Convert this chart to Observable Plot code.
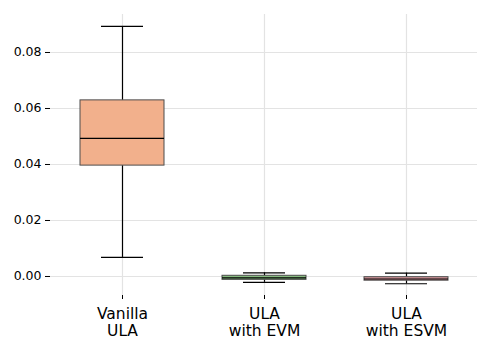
<!DOCTYPE html>
<html>
<head>
<meta charset="utf-8">
<script src="https://cdn.jsdelivr.net/npm/d3@7"></script>
<script src="https://cdn.jsdelivr.net/npm/@observablehq/plot@0.6"></script>
<style>
  html, body { margin: 0; padding: 0; background: #fff; }
  #chart svg { display: block; }
</style>
</head>
<body>
<div id="chart"></div>
<script>
const categories = ["Vanilla\nULA", "ULA\nwith EVM", "ULA\nwith ESVM"];
const whiskerLow = [0.0068, -0.0021, -0.0026];
const q1 = [0.0396, -0.0012, -0.0015];
const median = [0.0493, -0.00046, -0.0009];
const q3 = [0.0629, 0.00025, -0.00025];
const whiskerHigh = [0.0893, 0.0013, 0.0012];
const fills = ["#f2b08c", "#86bb7f", "#d4959b"];
const yTicks = [0, 0.02, 0.04, 0.06, 0.08];

const rows = categories.map((c, i) => ({
  cat: c, lo: whiskerLow[i], q1: q1[i], med: median[i], q3: q3[i], hi: whiskerHigh[i], fill: fills[i]
}));

const chart = Plot.plot({
  width: 490,
  height: 348,
  marginLeft: 50,
  marginRight: 13,
  marginTop: 14,
  marginBottom: 53,
  style: { fontFamily: "DejaVu Sans, sans-serif", background: "#fff", color: "#000" },
  x: { type: "band", domain: categories, padding: 0 },
  y: { domain: [-0.00679, 0.09357] },
  marks: [
    Plot.gridX(categories, { x: d => d, stroke: "#e3e3e3", strokeOpacity: 1, strokeWidth: 1.2 }),
    Plot.gridY(yTicks, { y: d => d, stroke: "#e3e3e3", strokeOpacity: 1, strokeWidth: 1.2 }),
    Plot.ruleX(rows, { x: "cat", y1: "lo", y2: "q1", stroke: "#000", strokeWidth: 1.2 }),
    Plot.ruleX(rows, { x: "cat", y1: "q3", y2: "hi", stroke: "#000", strokeWidth: 1.2 }),
    Plot.tickY(rows, { x: "cat", y: "lo", stroke: "#000", strokeWidth: 1.2, insetLeft: 50, insetRight: 50 }),
    Plot.tickY(rows, { x: "cat", y: "hi", stroke: "#000", strokeWidth: 1.2, insetLeft: 50, insetRight: 50 }),
    Plot.rect(rows, { x: "cat", y1: "q1", y2: "q3", fill: "fill", stroke: "#4d4d4d", strokeWidth: 1, insetLeft: 29, insetRight: 29 }),
    Plot.tickY(rows, { x: "cat", y: "med", stroke: "#000", strokeWidth: 1.2, insetLeft: 29, insetRight: 29 }),
    Plot.axisY(yTicks, { tickFormat: d3.format(".2f"), fontSize: 12.5, tickSize: 5, tickPadding: 4, stroke: "#000", label: null }),
    Plot.axisX({ fontSize: 15.5, tickSize: 4, tickPadding: 7, lineHeight: 1.1, label: null, stroke: "#000" })
  ]
});
document.getElementById("chart").appendChild(chart);
</script>
</body>
</html>
